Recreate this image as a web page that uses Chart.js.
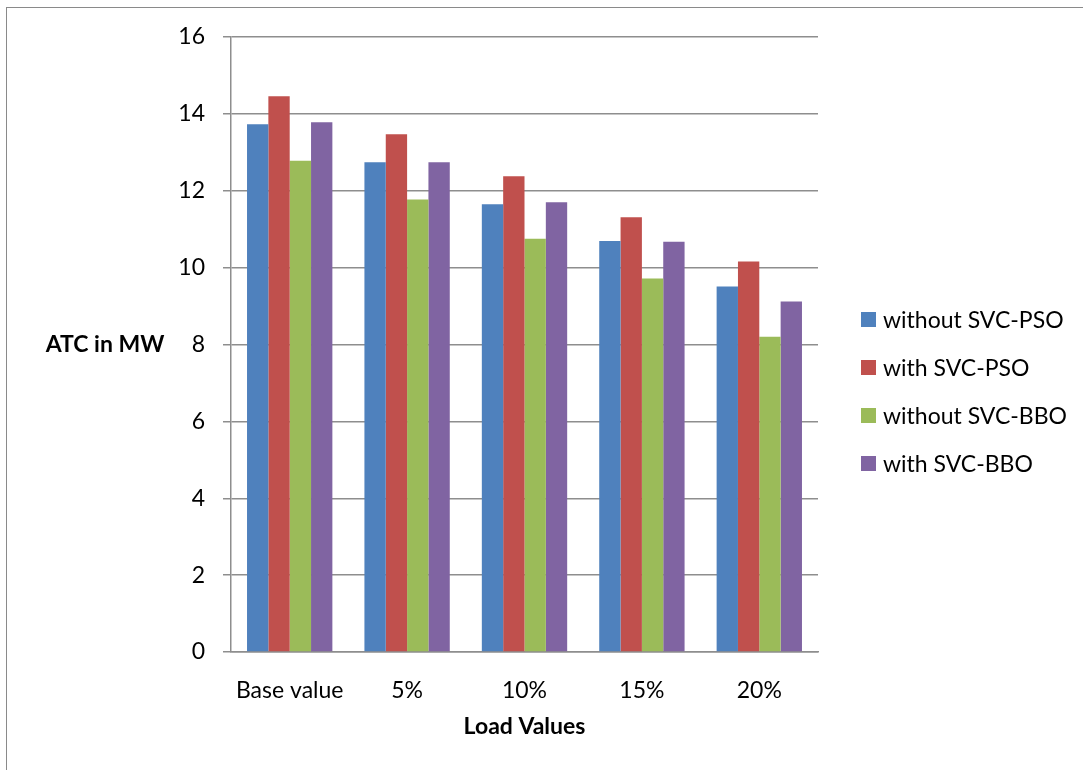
<!DOCTYPE html>
<html lang="en">
<head>
 <meta charset="UTF-8">
 <title>ATC in MW</title>
 <script src="https://cdn.jsdelivr.net/npm/chart.js"></script>
 <style>
   body {margin: 0; background: #fff;}
   .frame {position: absolute; left: 6px; top: 7px; width: 1200px; height: 900px;
     border-left: 1.5px solid #8a8a8a; border-top: 1.5px solid #8a8a8a;}
   #atc {position: absolute; left: 0; top: 0;}
 </style>
</head>
<body>
 <div class="frame"></div>
 <canvas id="atc" width="1083" height="770"></canvas>

 <script>
 const loads = ['Base value', '5%', '10%', '15%', '20%'];
 const withoutPso = [13.73, 12.74, 11.65, 10.69, 9.51];
 const withPso = [14.46, 13.47, 12.38, 11.31, 10.16];
 const withoutBbo = [12.78, 11.77, 10.75, 9.72, 8.20];
 const withBbo = [13.78, 12.74, 11.70, 10.67, 9.12];
 const yTicks = [0, 2, 4, 6, 8, 10, 12, 14, 16];

 const fontName = 'Lato, "Liberation Sans", sans-serif';
 const gridGrey = '#8e8e8e';

 // y title sits horizontally to the left of the axis, legend drawn on the right
 const sideText = {
   id: 'sideText',
   afterDraw(chart) {
     const ctx = chart.ctx;
     const area = chart.chartArea;
     ctx.save();
     ctx.fillStyle = '#000';
     ctx.font = 'bold 23px ' + fontName;
     ctx.textAlign = 'center';
     ctx.textBaseline = 'middle';
     ctx.fillText('ATC in MW', 105, (area.top + area.bottom) / 2);

     ctx.font = '23px ' + fontName;
     ctx.textAlign = 'left';
     const sets = chart.data.datasets;
     const step = 48;
     let y = (area.top + area.bottom) / 2 + 47 - step * (sets.length - 1) / 2;
     sets.forEach(ds => {
       ctx.fillStyle = ds.backgroundColor;
       ctx.fillRect(area.right + 43, y - 7.5, 15, 15);
       ctx.fillStyle = '#000';
       ctx.fillText(ds.label, area.right + 65, y + 1);
       y += step;
     });
     ctx.restore();
   }
 };

 new Chart(document.getElementById('atc'), {
   type: 'bar',
   data: {
     labels: loads,
     datasets: [
       {label: 'without SVC-PSO', data: withoutPso, backgroundColor: '#4F81BD'},
       {label: 'with SVC-PSO', data: withPso, backgroundColor: '#C0504D'},
       {label: 'without SVC-BBO', data: withoutBbo, backgroundColor: '#9BBB59'},
       {label: 'with SVC-BBO', data: withBbo, backgroundColor: '#8064A2'}
     ]
   },
   options: {
     responsive: false,
     animation: false,
     devicePixelRatio: 1,
     categoryPercentage: 0.727,
     barPercentage: 1,
     layout: {padding: {left: 0, top: 37, right: 265, bottom: 0}},
     plugins: {legend: {display: false}, tooltip: {enabled: false}},
     scales: {
       x: {
         grid: {display: false},
         border: {display: true, color: gridGrey, width: 1.5},
         ticks: {color: '#000', font: {family: fontName, size: 23}, padding: 17},
         title: {display: true, text: 'Load Values', color: '#000',
           font: {family: fontName, size: 23, weight: 'bold'}, padding: {top: 0, bottom: 30}},
         afterFit(scale) { scale.height = 118; }
       },
       y: {
         min: 0,
         max: 16,
         afterBuildTicks(scale) { scale.ticks = yTicks.map(v => ({value: v})); },
         grid: {color: gridGrey, lineWidth: 1.5, tickLength: 8},
         border: {display: true, color: gridGrey, width: 1.5},
         ticks: {color: '#000', font: {family: fontName, size: 23}, padding: 18},
         afterFit(scale) { scale.width = 231; }
       }
     }
   },
   plugins: [sideText]
 });
 </script>
</body>
</html>
